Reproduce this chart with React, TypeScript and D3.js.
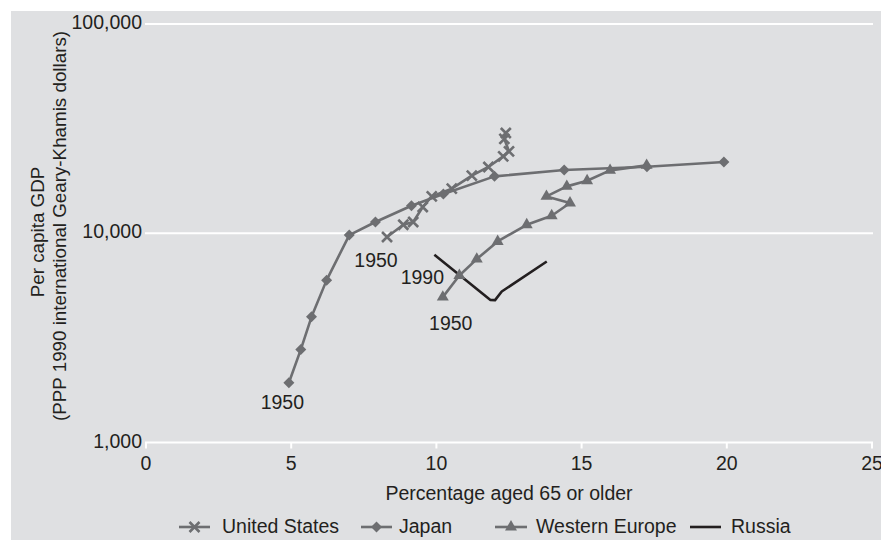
import React from "react";
import * as d3 from "d3";

// ---- Data ----
const usAged = [8.3, 8.86, 9.2, 9.53, 9.84, 10.53, 11.22, 11.79, 12.3, 12.5, 12.34, 12.39];
const usGdp = [9600, 10980, 11320, 13350, 15000, 16330, 18840, 20740, 23310, 24620, 28230, 30140];

const japanAged = [4.92, 5.33, 5.7, 6.22, 7.0, 7.9, 9.14, 10.24, 12.0, 14.4, 17.25, 19.9];
const japanGdp = [1930, 2780, 3985, 5970, 9800, 11315, 13535, 15400, 18700, 20070, 20800, 21910];

const weAged = [10.22, 10.79, 11.39, 12.11, 13.11, 13.97, 14.6, 13.79, 14.49, 15.19, 15.98, 17.24];
const weGdp = [4950, 6285, 7525, 9140, 10980, 12120, 13950, 15000, 16750, 17830, 19970, 21100];

const russiaAged = [9.93, 11.85, 12.02, 12.25, 13.8];
const russiaGdp = [7890, 4805, 4790, 5267, 7330];

const xTicks = [0, 5, 10, 15, 20, 25];
const yTicks = [1000, 10000, 100000];

const seriesNames = ["United States", "Japan", "Western Europe", "Russia"];
const xTitle = "Percentage aged 65 or older";
const yTitle1 = "Per capita GDP";
const yTitle2 = "(PPP 1990 international Geary-Khamis dollars)";

// ---- Styles / layout ----
const W = 881;
const H = 541;
const BG = "#dfe0e2";
const GRAY = "#6d6e71";
const BLACK = "#231f20";
const FONT = "'Liberation Sans', Arial, Helvetica, sans-serif";
const FS = 19.5;

const x = d3.scaleLinear().domain([0, 25]).range([146, 872]);
const y = d3.scaleLog().domain([1000, 100000]).range([442.5, 24]);

const zip = (a: number[], b: number[]) => a.map((v, i) => [v, b[i]] as [number, number]);
const lineGen = d3
  .line<[number, number]>()
  .x((d) => x(d[0]))
  .y((d) => y(d[1]));

const fmt = d3.format(",");

function XMark({ cx, cy }: { cx: number; cy: number }) {
  const r = 5;
  return (
    <path
      d={`M${cx - r},${cy - r}L${cx + r},${cy + r}M${cx - r},${cy + r}L${cx + r},${cy - r}`}
      stroke={GRAY}
      strokeWidth={2.6}
      fill="none"
    />
  );
}

function Diamond({ cx, cy }: { cx: number; cy: number }) {
  const r = 5.5;
  return <path d={`M${cx},${cy - r}L${cx + r},${cy}L${cx},${cy + r}L${cx - r},${cy}Z`} fill={GRAY} />;
}

const triPath = d3.symbol(d3.symbolTriangle, 62)() as string;
function Tri({ cx, cy }: { cx: number; cy: number }) {
  return <path d={triPath} transform={`translate(${cx},${cy})`} fill={GRAY} />;
}

export default function App() {
  const us = zip(usAged, usGdp);
  const jp = zip(japanAged, japanGdp);
  const we = zip(weAged, weGdp);
  const ru = zip(russiaAged, russiaGdp);

  const legendLayout = [
    { line: [179, 210], text: 222 },
    { line: [361, 392], text: 399 },
    { line: [495, 527], text: 536 },
    { line: [690, 721], text: 731 },
  ];
  const legY = 527;

  const labels = [
    { p: jp[0], dx: -6.5, dy: 26, t: "1950" },
    { p: us[0], dx: -11, dy: 30, t: "1950" },
    { p: ru[0], dx: -12, dy: 29, t: "1990" },
    { p: we[0], dx: 8, dy: 33, t: "1950" },
  ];

  return (
    <svg
      width={W}
      height={H}
      style={{ position: "absolute", left: 0, top: 0 }}
      fontFamily={FONT}
      fontSize={FS}
      fill={BLACK}
    >
      <rect x={11} y={11} width={W - 11} height={529} fill={BG} />

      {/* gridlines */}
      {yTicks.map((t) => (
        <line key={t} x1={145} x2={x(25) + 1} y1={y(t)} y2={y(t)} stroke="#fff" strokeWidth={2.2} />
      ))}
      {/* x ticks */}
      {xTicks.map((t) => (
        <line key={t} x1={x(t)} x2={x(t)} y1={y(1000)} y2={y(1000) + 6} stroke="#fff" strokeWidth={2} />
      ))}

      {/* tick labels */}
      {yTicks.map((t) => (
        <text key={t} x={142} y={y(t) + 5} textAnchor="end">
          {fmt(t)}
        </text>
      ))}
      {xTicks.map((t) => (
        <text key={t} x={x(t)} y={470} textAnchor="middle">
          {t}
        </text>
      ))}

      {/* axis titles */}
      <text x={(x(0) + x(25)) / 2} y={500} textAnchor="middle">
        {xTitle}
      </text>
      <text transform={`translate(44,232) rotate(-90)`} textAnchor="middle" fontSize={18.8}>
        {yTitle1}
      </text>
      <text transform={`translate(66,226) rotate(-90)`} textAnchor="middle" fontSize={18.8}>
        {yTitle2}
      </text>

      {/* series lines */}
      <path d={lineGen(jp) as string} fill="none" stroke={GRAY} strokeWidth={2.6} strokeLinejoin="round" />
      <path d={lineGen(we) as string} fill="none" stroke={GRAY} strokeWidth={2.6} strokeLinejoin="round" />
      <path d={lineGen(us) as string} fill="none" stroke={GRAY} strokeWidth={2.6} strokeLinejoin="round" />
      <path d={lineGen(ru) as string} fill="none" stroke={BLACK} strokeWidth={2.6} strokeLinejoin="round" />

      {/* markers */}
      {jp.map((d, i) => (
        <Diamond key={"j" + i} cx={x(d[0])} cy={y(d[1])} />
      ))}
      {we.map((d, i) => (
        <Tri key={"w" + i} cx={x(d[0])} cy={y(d[1])} />
      ))}
      {us.map((d, i) => (
        <XMark key={"u" + i} cx={x(d[0])} cy={y(d[1])} />
      ))}

      {/* point labels */}
      {labels.map((l, i) => (
        <text key={i} x={x(l.p[0]) + l.dx} y={y(l.p[1]) + l.dy} textAnchor="middle">
          {l.t}
        </text>
      ))}

      {/* legend */}
      {seriesNames.map((name, i) => {
        const L = legendLayout[i];
        const cx = (L.line[0] + L.line[1]) / 2;
        return (
          <g key={name}>
            <line
              x1={L.line[0]}
              x2={L.line[1]}
              y1={legY}
              y2={legY}
              stroke={i === 3 ? BLACK : GRAY}
              strokeWidth={2.6}
            />
            {i === 0 && <XMark cx={cx} cy={legY} />}
            {i === 1 && <Diamond cx={cx} cy={legY} />}
            {i === 2 && <Tri cx={cx} cy={legY} />}
            <text x={L.text} y={533}>
              {name}
            </text>
          </g>
        );
      })}
    </svg>
  );
}
